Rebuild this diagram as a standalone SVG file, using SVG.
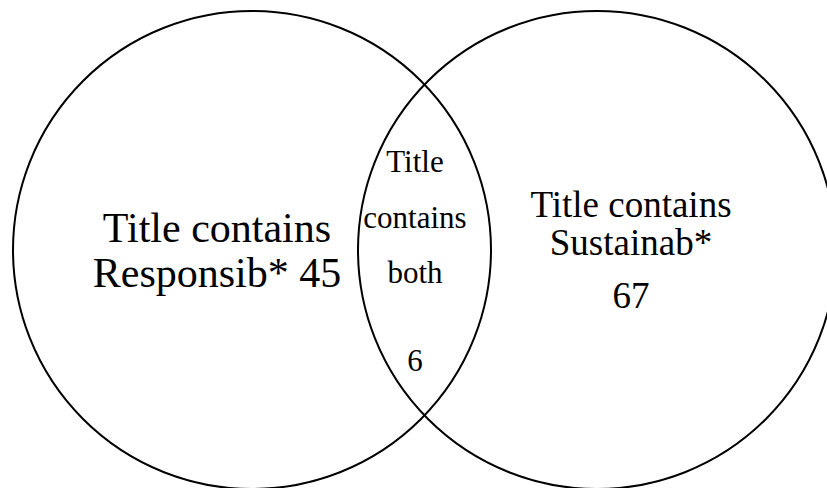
<svg xmlns="http://www.w3.org/2000/svg" width="827" height="488" viewBox="0 0 827 488">
<style>
.c{fill:none;stroke:#000;stroke-width:2}
text{font-family:"Liberation Serif","Times New Roman",serif;fill:#000;text-anchor:middle}
.l{font-size:42px}
.r{font-size:37px}
.m{font-size:31px}
</style>
<rect width="827" height="488" fill="#fff"/>
<g id="left">
<circle class="c" cx="252" cy="250" r="239"/>
<text class="l" x="217" y="242">Title contains</text>
<text class="l" x="217" y="287">Responsib* 45</text>
</g>
<g id="right">
<circle class="c" cx="597" cy="250" r="239"/>
<text class="r" x="631" y="217">Title contains</text>
<text class="r" x="631" y="255">Sustainab*</text>
<text class="r" x="631" y="308">67</text>
</g>
<g id="both">
<text class="m" x="415" y="172">Title</text>
<text class="m" x="415" y="228">contains</text>
<text class="m" x="415" y="283">both</text>
<text class="m" x="415" y="371">6</text>
</g>
<g id="connectors"/>
</svg>
